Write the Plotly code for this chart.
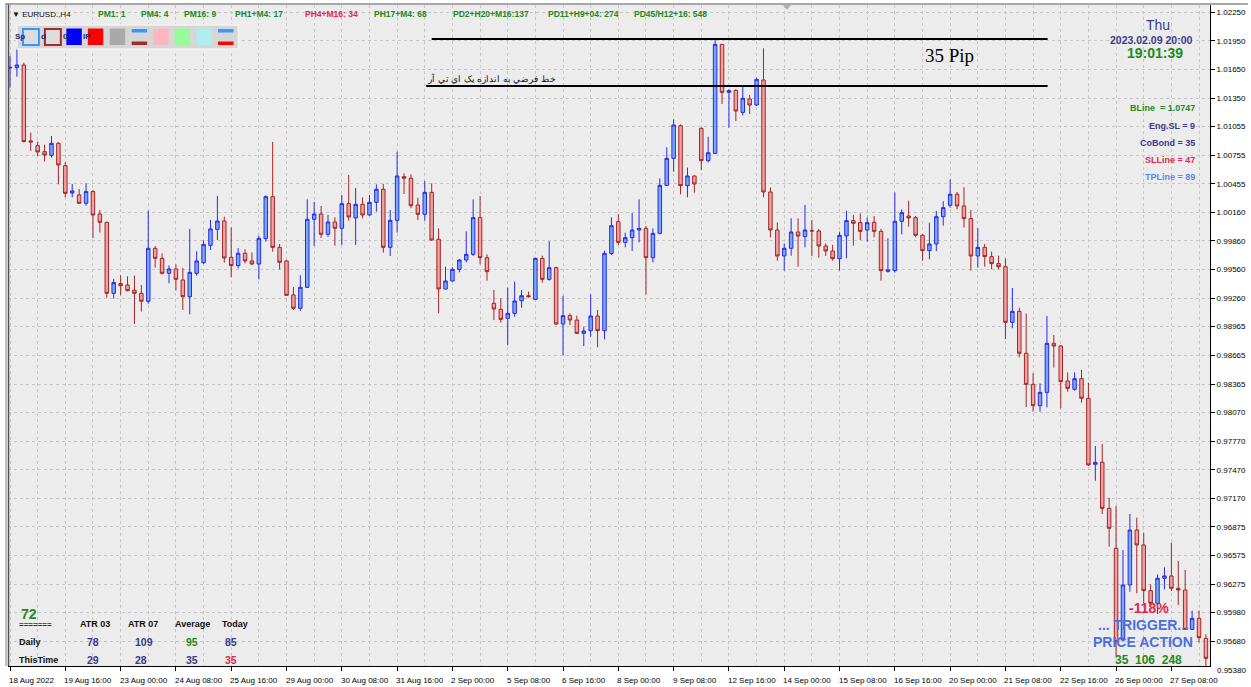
import plotly.graph_objects as go

# ---------------- data (EURUSD H4) ----------------
open_ = [1.01665, 1.01669, 1.01697, 1.00904, 1.00855, 1.00792, 1.00754, 1.00879, 1.00646, 1.00361,
         1.00340, 1.00253, 1.00375, 1.00141, 1.00054, 0.99313, 0.99414, 0.99400, 0.99345, 0.99313,
         0.99230, 0.99783, 0.99678, 0.99522, 0.99567, 0.99452, 0.99278, 0.99522, 0.99633, 0.99814,
         0.99981, 1.00068, 0.99689, 0.99602, 0.99731, 0.99651, 0.99619, 0.99884, 1.00322, 0.99793,
         0.99651, 0.99296, 0.99157, 0.99376, 1.00086, 1.00141, 0.99929, 1.00058, 0.99992, 1.00249,
         1.00100, 1.00242, 1.00131, 1.00263, 1.00399, 0.99793, 1.00075, 1.00531, 1.00514, 1.00235,
         1.00138, 1.00367, 0.99877, 0.99358, 0.99442, 0.99563, 0.99661, 0.99720, 1.00103, 0.99685,
         0.99208, 0.99146, 0.99052, 0.99104, 0.99236, 0.99288, 0.99250, 0.99678, 0.99459, 0.99581,
         0.98993, 0.99080, 0.99034, 0.98895, 0.98923, 0.99076, 0.98923, 0.99730, 1.00061, 0.99845,
         0.99894, 0.99974, 0.99991, 0.99685, 0.99939, 1.00440, 1.00722, 1.01063, 1.00437, 1.00538,
         1.01036, 1.00698, 1.00774, 1.01912, 1.01411, 1.01432, 1.01202, 1.01342, 1.01279, 1.01540,
         1.00371, 0.99974, 0.99703, 0.99783, 0.99953, 0.99905, 0.99967, 0.99964, 0.99807, 0.99755,
         0.99675, 0.99912, 1.00072, 1.00051, 0.99974, 1.00054, 0.99960, 0.99543, 0.99550, 1.00065,
         1.00120, 1.00103, 0.99919, 0.99758, 0.99828, 1.00113, 1.00232, 1.00347, 1.00225, 1.00093,
         0.99703, 0.99793, 0.99696, 0.99623, 0.99591, 0.99010, 0.99125, 0.98687, 0.98363, 0.98140,
         0.98279, 0.98791, 0.98763, 0.98398, 0.98311, 0.98422, 0.98217, 0.97528, 0.97549, 0.97068,
         0.96651, 0.95694, 0.96268, 0.96842, 0.96686, 0.96209, 0.96077, 0.96338, 0.96362, 0.96233,
         0.96216, 0.95805, 0.95920, 0.95711]
high = [1.01791, 1.01881, 1.01721, 1.00991, 1.00897, 1.00865, 1.00956, 1.00890, 1.00684, 1.00455,
        1.00402, 1.00462, 1.00392, 1.00183, 1.00061, 0.99463, 0.99501, 0.99491, 0.99498, 0.99400,
        1.00176, 0.99807, 0.99731, 0.99605, 0.99616, 0.99578, 0.99985, 0.99751, 0.99866, 1.00079,
        1.00329, 1.00113, 1.00002, 0.99786, 0.99772, 0.99741, 0.99915, 1.00336, 1.00893, 0.99828,
        0.99661, 0.99379, 0.99501, 1.00294, 1.00267, 1.00225, 1.00131, 1.00106, 1.00340, 1.00548,
        1.00413, 1.00315, 1.00340, 1.00451, 1.00455, 1.00183, 1.00792, 1.00566, 1.00556, 1.00312,
        1.00486, 1.00461, 0.99991, 0.99591, 0.99584, 0.99668, 0.99960, 1.00294, 1.00329, 0.99720,
        0.99348, 0.99261, 0.99372, 0.99435, 0.99348, 0.99330, 0.99685, 0.99706, 0.99859, 0.99591,
        0.99288, 0.99104, 0.99080, 0.98965, 0.99302, 0.99139, 0.99758, 1.00106, 1.00138, 0.99946,
        1.00152, 1.00294, 1.00016, 0.99991, 1.00513, 1.00837, 1.01129, 1.01077, 1.00625, 1.00545,
        1.01042, 1.00948, 1.01975, 1.01916, 1.01443, 1.01443, 1.01470, 1.01383, 1.01564, 1.01871,
        1.00419, 1.00054, 0.99835, 1.00096, 1.00096, 1.00235, 1.00078, 0.99984, 0.99835, 0.99818,
        0.99957, 1.00176, 1.00131, 1.00148, 1.00103, 1.00120, 0.99985, 0.99887, 1.00367, 1.00190,
        1.00280, 1.00120, 0.99932, 1.00051, 1.00173, 1.00274, 1.00503, 1.00371, 1.00420, 1.00183,
        0.99992, 0.99828, 0.99748, 0.99706, 0.99678, 0.99369, 0.99163, 0.99101, 0.98478, 0.98373,
        0.99076, 0.98878, 0.98774, 0.98488, 0.98488, 0.98513, 0.98380, 0.97719, 0.97740, 0.97180,
        0.97093, 0.96633, 0.97009, 0.96971, 0.96814, 0.96275, 0.96379, 0.96452, 0.96710, 0.96519,
        0.96425, 0.96000, 0.96000, 0.95753]
low = [1.01460, 1.01575, 1.00890, 1.00799, 1.00747, 1.00688, 1.00730, 1.00451, 1.00315, 1.00315,
       1.00246, 1.00228, 0.99891, 0.99947, 0.99268, 0.99258, 0.99292, 0.99334, 0.98993, 0.99122,
       0.99205, 0.99581, 0.99508, 0.99418, 0.99341, 0.99139, 0.99094, 0.99498, 0.99619, 0.99765,
       0.99870, 0.99633, 0.99483, 0.99574, 0.99626, 0.99609, 0.99459, 0.99853, 0.99748, 0.99564,
       0.99285, 0.99139, 0.99132, 0.99369, 0.99807, 0.99891, 0.99905, 0.99811, 0.99818, 1.00072,
       0.99818, 1.00096, 1.00124, 1.00166, 0.99738, 0.99703, 0.99947, 1.00350, 1.00201, 1.00078,
       1.00071, 0.99859, 0.99104, 0.99355, 0.99435, 0.99532, 0.99636, 0.99703, 0.99616, 0.99445,
       0.99034, 0.99007, 0.98770, 0.99069, 0.99163, 0.99268, 0.99243, 0.99424, 0.99445, 0.98982,
       0.98669, 0.98982, 0.98888, 0.98763, 0.98860, 0.98749, 0.98833, 0.99713, 0.99817, 0.99793,
       0.99755, 0.99845, 0.99302, 0.99636, 0.99929, 1.00433, 1.00583, 1.00346, 1.00315, 1.00364,
       1.00600, 1.00680, 1.00772, 1.01289, 1.01042, 1.01112, 1.01171, 1.01185, 1.01269, 1.00315,
       0.99897, 0.99654, 0.99549, 0.99706, 0.99591, 0.99793, 0.99703, 0.99685, 0.99703, 0.99654,
       0.99550, 0.99678, 0.99811, 0.99870, 0.99852, 0.99898, 0.99445, 0.99529, 0.99529, 0.99929,
       1.00009, 0.99898, 0.99654, 0.99668, 0.99755, 1.00019, 1.00207, 1.00190, 0.99999, 0.99550,
       0.99581, 0.99591, 0.99564, 0.99564, 0.98836, 0.98948, 0.98645, 0.98126, 0.98078, 0.98078,
       0.98123, 0.98537, 0.98112, 0.98286, 0.98297, 0.98172, 0.97510, 0.97357, 0.97009, 0.96668,
       0.95520, 0.95676, 0.96198, 0.96181, 0.96077, 0.96042, 0.95965, 0.96223, 0.96205, 0.96059,
       0.95798, 0.95798, 0.95669, 0.95415]
close = [1.01672, 1.01697, 1.00897, 1.00893, 1.00789, 1.00757, 1.00879, 1.00653, 1.00357, 1.00382,
         1.00253, 1.00375, 1.00131, 1.00054, 0.99313, 0.99425, 0.99393, 0.99341, 0.99313, 0.99230,
         0.99783, 0.99678, 0.99522, 0.99567, 0.99459, 0.99278, 0.99532, 0.99651, 0.99824, 0.99985,
         1.00068, 0.99682, 0.99602, 0.99731, 0.99651, 0.99619, 0.99887, 1.00322, 0.99793, 0.99637,
         0.99292, 0.99157, 0.99376, 1.00086, 1.00141, 0.99929, 1.00058, 0.99992, 1.00249, 1.00110,
         1.00242, 1.00131, 1.00263, 1.00399, 0.99793, 1.00075, 1.00538, 1.00514, 1.00228, 1.00138,
         1.00367, 0.99870, 0.99358, 0.99442, 0.99563, 0.99661, 0.99720, 1.00103, 0.99685, 0.99539,
         0.99149, 0.99041, 0.99104, 0.99233, 0.99288, 0.99278, 0.99678, 0.99459, 0.99581, 0.98993,
         0.99080, 0.99034, 0.98895, 0.98920, 0.99076, 0.98923, 0.99730, 1.00019, 0.99845, 0.99894,
         0.99974, 0.99991, 0.99685, 0.99939, 1.00440, 1.00722, 1.01070, 1.00437, 1.00538, 1.00454,
         1.00698, 1.00781, 1.01912, 1.01411, 1.01429, 1.01216, 1.01349, 1.01279, 1.01547, 1.00371,
         0.99974, 0.99703, 0.99783, 0.99953, 0.99911, 0.99974, 0.99964, 0.99807, 0.99755, 0.99675,
         0.99919, 1.00072, 1.00044, 0.99960, 1.00051, 0.99960, 0.99550, 0.99557, 1.00065, 1.00155,
         1.00100, 0.99919, 0.99758, 0.99828, 1.00113, 1.00207, 1.00347, 1.00225, 1.00093, 0.99703,
         0.99793, 0.99696, 0.99623, 0.99591, 0.99010, 0.99125, 0.98687, 0.98363, 0.98140, 0.98279,
         0.98791, 0.98763, 0.98391, 0.98321, 0.98422, 0.98217, 0.97521, 0.97549, 0.97068, 0.96860,
         0.95676, 0.96268, 0.96842, 0.96686, 0.96209, 0.96077, 0.96338, 0.96362, 0.96233, 0.96216,
         0.95805, 0.95920, 0.95718, 0.95502]

date_labels = ["18 Aug 2022", "19 Aug 16:00", "23 Aug 00:00", "24 Aug 08:00", "25 Aug 16:00",
               "29 Aug 00:00", "30 Aug 08:00", "31 Aug 16:00", "2 Sep 00:00", "5 Sep 08:00",
               "6 Sep 16:00", "8 Sep 00:00", "9 Sep 08:00", "12 Sep 16:00", "14 Sep 00:00",
               "15 Sep 08:00", "16 Sep 16:00", "20 Sep 00:00", "21 Sep 08:00", "22 Sep 16:00",
               "26 Sep 00:00", "27 Sep 08:00"]
bars_per_label = 8

price_ticks = [1.02250, 1.01950, 1.01650, 1.01350, 1.01055, 1.00755, 1.00455, 1.00160,
               0.99860, 0.99560, 0.99260, 0.98965, 0.98665, 0.98365, 0.98070, 0.97770,
               0.97470, 0.97170, 0.96875, 0.96575, 0.96275, 0.95980, 0.95680, 0.95380]

# "ATR" reference lines (price levels and bar span)
atr_line_top = 1.01968
atr_line_bottom = 1.01477
atr_line_start_top = 61.0
atr_line_start_bottom = 60.2
atr_line_end = 150.1

header_items = [("PM1: 1", "g"), ("PM4: 4", "g"), ("PM16: 9", "g"), ("PH1+M4: 17", "g"),
                ("PH4+M16: 34", "r"), ("PH17+M4: 68", "g"), ("PD2+H20+M16:137", "g"),
                ("PD11+H9+04: 274", "g"), ("PD45/H12+16: 548", "g")]

atr_headers = ["ATR 03", "ATR 07", "Average", "Today"]
daily_vals = [78, 109, 95, 85]
thistime_vals = [29, 28, 35, 35]

# ---------------- layout geometry ----------------
W, H = 1251, 687
L, R, T, B = 8, 1213, 5, 666
PW, PH = R - L, B - T


def px(x):
    return (x - L) / PW


def py(y):
    return 1 - (y - T) / PH


FONT = "Liberation Sans, Arial, sans-serif"
GREEN = "#1f8a1f"
CRIMSON = "#e0284f"
SLATE = "#3a3a8c"
BLUE_TXT = "#4a70e0"

n = len(open_)
x = list(range(n))

fig = go.Figure()
fig.add_trace(go.Candlestick(
    x=x, open=open_, high=high, low=low, close=close,
    increasing=dict(line=dict(color="#2a2ae6", width=1), fillcolor="#74aaf4"),
    decreasing=dict(line=dict(color="#a32626", width=1), fillcolor="#f0a1a4"),
    whiskerwidth=0, hoverinfo="skip", showlegend=False,
))

grid = dict(showgrid=True, gridcolor="#c6c6c6", gridwidth=1, griddash="3px,3px")

fig.update_layout(
    width=W, height=H,
    margin=dict(l=L, r=W - R, t=T, b=H - B, pad=0),
    paper_bgcolor="#ffffff", plot_bgcolor="#ececec",
    boxgap=0.28,
    showlegend=False,
    font=dict(family=FONT, size=8, color="#000000"),
    xaxis=dict(
        range=[-0.29, 173.59], rangeslider=dict(visible=False),
        tickmode="array", tickvals=[k * bars_per_label for k in range(len(date_labels))],
        showticklabels=False, ticks="outside", ticklen=4, tickcolor="#000000",
        showline=True, linecolor="#000000", linewidth=1, zeroline=False,
        minor=dict(dtick=4, tick0=0, showgrid=True, gridcolor="#c6c6c6", griddash="3px,3px", ticks=""),
        **grid,
    ),
    yaxis=dict(
        side="right", range=[0.954222, 1.023231],
        tickmode="array", tickvals=price_ticks, ticktext=[f"{v:.5f}" for v in price_ticks],
        ticks="outside", ticklen=4, tickcolor="#000000",
        tickfont=dict(size=8, family=FONT, color="#000000"),
        showline=True, linecolor="#000000", linewidth=1, zeroline=False,
        **grid,
    ),
)

ann = []


def text(xp, yp, s, size=8, color="#000000", anchor="left", bold=False, family=FONT, yanchor="middle"):
    ann.append(dict(x=px(xp), y=py(yp), xref="paper", yref="paper", text=(f"<b>{s}</b>" if bold else s),
                    showarrow=False, xanchor=anchor, yanchor=yanchor, borderpad=0,
                    font=dict(size=size, color=color, family=family)))


# date labels on the time axis
for k, lab in enumerate(date_labels):
    ann.append(dict(x=k * bars_per_label, y=py(680), xref="x", yref="paper", text=lab, showarrow=False,
                    xanchor="left", yanchor="middle", xshift=-2, borderpad=0,
                    font=dict(size=8, family=FONT, color="#000000")))
# last price label (below plot bottom)
text(1219, 670, f"{price_ticks[-1]:.5f}", size=8)

# header line
text(11, 14, "▼ EURUSD.,H4", size=8, color="#111111")
hx = [97, 140, 183, 235, 305, 374, 453, 548, 635]
for (s, c), xx in zip(header_items, hx):
    text(xx, 14, s, size=8.5, color=(CRIMSON if c == "r" else GREEN), bold=True)

# partially hidden spread text behind the tool panel
text(14, 36, "Sp", size=8, color="#26266e", bold=True)
text(40, 36, "d", size=8, color="#26266e", bold=True)
text(62, 36, "0.", size=8, color="#26266e", bold=True)
text(82, 36, "IP", size=8, color="#26266e", bold=True)

# right-top info
text(1161, 25, "Thu", size=14, color="#3d3d8f", anchor="center")
text(1154, 40, "2023.02.09 20:00", size=10.5, color="#3d3d8f", anchor="center", bold=True)
text(1158, 53, "19:01:39", size=14, color=GREEN, anchor="center", bold=True)
info = [("BLine  = 1.0747", GREEN, 108), ("Eng.SL = 9", SLATE, 126), ("CoBond = 35", SLATE, 143),
        ("SLLine = 47", CRIMSON, 160), ("TPLine = 89", "#5b86ee", 177)]
for s, c, yy in info:
    text(1199, yy, s, size=9, color=c, anchor="right", bold=True)

# ATR line labels
text(926, 56, "35 Pip", size=19, color="#000000", family="Liberation Serif, Times New Roman, serif")
text(427, 79, "خط فرضي به اندازه يک اي تي آر", size=9, color="#111111")

# bottom-left ATR table
text(20, 614, "72", size=14, color=GREEN, bold=True)
text(18, 624, "=======", size=8, color="#333333", bold=True)
cols = [95, 143, 193, 236]
for s, cx in zip(atr_headers, cols):
    text(cx, 624, s, size=9, color="#111111", anchor="center", bold=True)
text(18, 642, "Daily", size=9, color="#111111", bold=True)
text(18, 660, "ThisTime", size=9, color="#111111", bold=True)
daily_colors = [SLATE, SLATE, GREEN, SLATE]
this_colors = [SLATE, SLATE, SLATE, CRIMSON]
for v, cx, c in zip(daily_vals, [93, 144, 192, 232], daily_colors):
    text(cx, 642, str(v), size=10.5, color=c, anchor="center", bold=True)
for v, cx, c in zip(thistime_vals, [93, 141, 192, 232], this_colors):
    text(cx, 660, str(v), size=10.5, color=c, anchor="center", bold=True)

# bottom-right trigger block
text(1152, 608, "-118%", size=14, color=CRIMSON, anchor="center", bold=True)
text(1146, 625, "... TRIGGER...", size=14, color=BLUE_TXT, anchor="left" if False else "center", bold=True)
text(1146, 642, "PRICE ACTION", size=14, color=BLUE_TXT, anchor="center", bold=True)
text(1151, 660, "35  106  248", size=12, color=GREEN, anchor="center", bold=True)

fig.update_layout(annotations=ann)

# ---------------- shapes ----------------
shapes = []
# ATR horizontal lines
shapes.append(dict(type="line", xref="x", yref="y", x0=atr_line_start_top, x1=atr_line_end,
                   y0=atr_line_top, y1=atr_line_top, line=dict(color="#000000", width=2)))
shapes.append(dict(type="line", xref="x", yref="y", x0=atr_line_start_bottom, x1=atr_line_end,
                   y0=atr_line_bottom, y1=atr_line_bottom, line=dict(color="#000000", width=2)))


def rect(x0, y0, x1, y1, fill, line=None, lw=0):
    shapes.append(dict(type="rect", xref="paper", yref="paper", x0=px(x0), x1=px(x1), y0=py(y1), y1=py(y0),
                       fillcolor=fill, line=dict(color=line or fill, width=lw), layer="above"))


# frame
shapes.append(dict(type="line", xref="paper", yref="paper", x0=px(6), x1=px(6), y0=py(B), y1=py(3),
                   line=dict(color="#7a7a7a", width=1), layer="above"))
shapes.append(dict(type="line", xref="paper", yref="paper", x0=px(8.5), x1=px(8.5), y0=py(B), y1=py(4),
                   line=dict(color="#505050", width=1.5), layer="above"))
shapes.append(dict(type="line", xref="paper", yref="paper", x0=px(6), x1=px(1251), y0=py(4), y1=py(4),
                   line=dict(color="#8a8a8a", width=1.5), layer="above"))
# chart-shift marker at the top
shapes.append(dict(type="path", xref="paper", yref="paper",
                   path=f"M {px(785)} {py(5)} L {px(793)} {py(5)} L {px(789)} {py(10)} Z",
                   fillcolor="#b0b0b0", line=dict(color="#b0b0b0", width=0), layer="above"))

# tool panel
rect(17, 25, 239, 49, "#d6d6d6", "#f4f4f4", 1.5)
rect(23, 29, 39, 45, "#dcdcdc", "#3399ff", 2)
rect(45, 29, 61, 45, "#dcdcdc", "#a52a2a", 2)
rect(66.5, 28.5, 82, 45, "#0000ff")
rect(88, 28.5, 103.5, 45, "#ff0000")
rect(110, 28.5, 125.5, 45, "#a9a9a9")
rect(132, 29, 147.5, 32.5, "#3399ff")
rect(132, 41.5, 147.5, 45, "#a52a2a")
rect(153.5, 28.5, 169, 45, "#ffb6c1")
rect(175, 28.5, 190.5, 45, "#98fb98")
rect(197, 28.5, 212.5, 45, "#afeeee")
rect(218.5, 29, 234, 32.5, "#3399ff")
rect(218.5, 41.5, 234, 45, "#ff0000")

fig.update_layout(shapes=shapes)

fig.write_html("out.html", config={"displayModeBar": False},
               post_script="document.body.style.margin='0';document.body.style.overflow='hidden';")
